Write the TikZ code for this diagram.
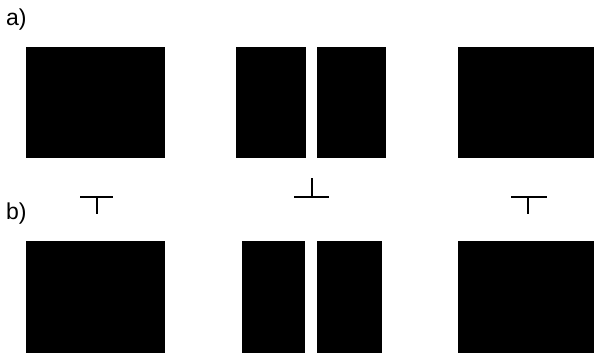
\documentclass[tikz,border=0pt]{standalone}
\usepackage{fontspec}
\setmainfont{Liberation Sans}
\usetikzlibrary{positioning}

\begin{document}
\begin{tikzpicture}[
    x=1pt, y=-1pt,
    slab/.style={fill=black, draw=none},
    panellabel/.style={font=\fontsize{23}{26}\selectfont, anchor=west, inner sep=0pt},
    tmark/.style={line width=2.2pt, line cap=butt},
]
\useasboundingbox (0,0) rectangle (594,356);

% panel labels
\node[panellabel] (la) at (6,20) {a)};
\node[panellabel] (lb) at (6,214) {b)};

% row a)
\fill[slab] (26,47) rectangle (165,158);
\fill[slab] (236,47) rectangle (306,158);
\fill[slab] (317,47) rectangle (386,158);
\fill[slab] (458,47) rectangle (594,158);

% symbols
\draw[tmark] (80,197) -- (113,197) (97,197) -- (97,214);
\draw[tmark] (294,197) -- (329,197) (312,197) -- (312,178);
\draw[tmark] (511,197) -- (547,197) (528,197) -- (528,214);

% row b)
\fill[slab] (26,241) rectangle (165,353);
\fill[slab] (242,241) rectangle (305,353);
\fill[slab] (317,241) rectangle (382,353);
\fill[slab] (458,241) rectangle (594,353);

\end{tikzpicture}
\end{document}
